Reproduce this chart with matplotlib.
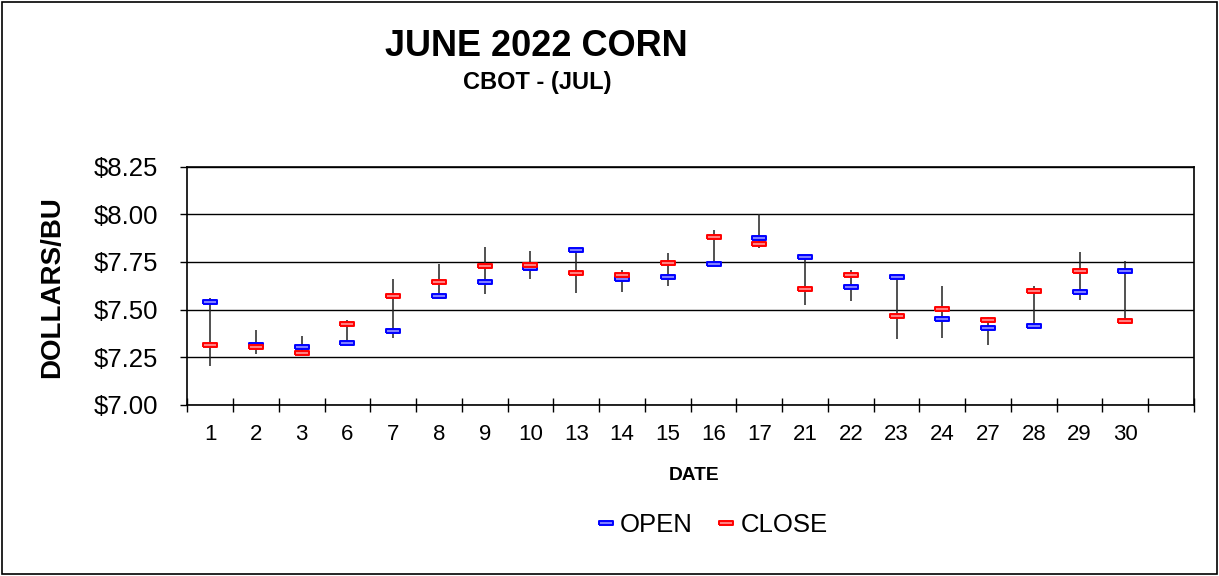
import numpy as np
from matplotlib import pyplot as plt
from matplotlib.lines import Line2D
from matplotlib.patches import Rectangle
from matplotlib.ticker import FuncFormatter, FixedLocator

plt.rcParams["font.family"] = ["Liberation Sans", "DejaVu Sans"]

dates = ["1", "2", "3", "6", "7", "8", "9", "10", "13", "14", "15",
         "16", "17", "21", "22", "23", "24", "27", "28", "29", "30"]
open_px = [7.538, 7.315, 7.303, 7.324, 7.390, 7.571, 7.646, 7.720, 7.810, 7.659, 7.671,
           7.740, 7.875, 7.775, 7.620, 7.672, 7.451, 7.401, 7.416, 7.592, 7.700]
high_px = [7.561, 7.394, 7.361, 7.443, 7.660, 7.739, 7.828, 7.808, 7.822, 7.709, 7.796,
           7.918, 8.000, 7.775, 7.706, 7.672, 7.624, 7.462, 7.625, 7.800, 7.753]
low_px = [7.207, 7.265, 7.260, 7.324, 7.352, 7.571, 7.582, 7.659, 7.585, 7.592, 7.622,
          7.740, 7.822, 7.523, 7.547, 7.347, 7.352, 7.312, 7.416, 7.551, 7.425]
close_px = [7.314, 7.303, 7.272, 7.427, 7.571, 7.646, 7.730, 7.733, 7.693, 7.683, 7.742,
            7.882, 7.845, 7.608, 7.679, 7.469, 7.503, 7.444, 7.596, 7.702, 7.439]
y_ticks = [7.00, 7.25, 7.50, 7.75, 8.00, 8.25]

W, H = 1219, 576
fig = plt.figure(figsize=(W / 100, H / 100), dpi=100)
ax = fig.add_axes([187.3 / W, 1 - 405 / H, (1194 - 187.3) / W, (405 - 166.5) / H])

x = np.arange(len(dates))
n_slots = len(dates) + 1  # one empty slot on the right

# flat dash marker with a light centre line
dash = [(-1, -0.3), (1, -0.3), (1, 0.3), (-1, 0.3), (-1, -0.3)]

ax.vlines(x, low_px, high_px, color="#222222", lw=1.1, zorder=3)
ax.plot(x, open_px, ls="none", marker=dash, ms=10.5, mfc="#7f7fff", mec="#0000ff",
        mew=1.4, zorder=4)
ax.plot(x, close_px, ls="none", marker=dash, ms=10.5, mfc="#ff8080", mec="#ff0000",
        mew=1.4, zorder=4)

ax.set_xlim(-0.5, n_slots - 0.5)
ax.set_ylim(7.0, 8.25)

ax.yaxis.set_major_locator(FixedLocator(y_ticks))
ax.yaxis.set_major_formatter(FuncFormatter(lambda v, p: f"${v:.2f}"))
ax.grid(axis="y", color="black", lw=1.0)
ax.set_axisbelow(True)

ax.set_xticks(np.arange(n_slots + 1) - 0.5)
ax.set_xticklabels([])
ax.set_xticks(x, labels=dates, minor=True)
ax.tick_params(axis="x", which="major", direction="inout", length=10, width=1.0)
ax.tick_params(axis="x", which="minor", length=0, pad=14, labelsize=16)
ax.tick_params(axis="y", direction="out", length=5, width=1.0, labelsize=18.5, pad=16)

for s in ax.spines.values():
    s.set_linewidth(1.2)

fig.text(536 / W, 1 - 46 / H, "JUNE 2022 CORN", ha="center", va="center",
         fontsize=26, fontweight="bold")
fig.text(537 / W, 1 - 82 / H, "CBOT - (JUL)", ha="center", va="center",
         fontsize=17, fontweight="bold")
fig.text(52 / W, 1 - 287 / H, "DOLLARS/BU", ha="center", va="center", rotation=90,
         fontsize=20, fontweight="bold")
fig.text(694 / W, 1 - 476 / H, "DATE", ha="center", va="center",
         fontsize=13.8, fontweight="bold")

handles = [
    Line2D([], [], ls="none", marker=dash, ms=10, mfc="#7f7fff", mec="#0000ff", mew=1.4),
    Line2D([], [], ls="none", marker=dash, ms=10, mfc="#ff8080", mec="#ff0000", mew=1.4),
]
fig.legend(handles, ["OPEN", "CLOSE"], loc="center", bbox_to_anchor=(713 / W, 1 - 525 / H),
           ncol=2, frameon=False, fontsize=18.5, handlelength=0.6, handletextpad=0.25,
           columnspacing=1.0)

fig.patches.append(Rectangle((0.002, 0.003), 0.996, 0.994, transform=fig.transFigure,
                             fill=False, ec="black", lw=1.2))

fig.savefig("out.png", dpi=100)
